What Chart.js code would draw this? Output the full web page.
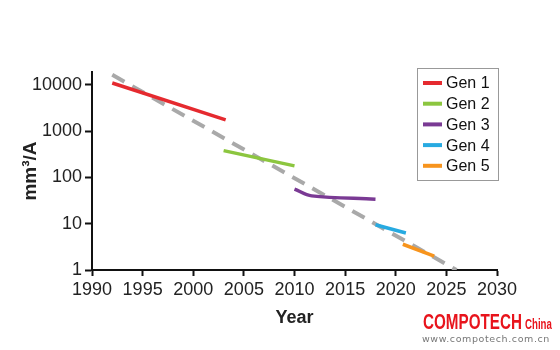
<!DOCTYPE html>
<html>
<head>
<meta charset="utf-8">
<script src="https://cdn.jsdelivr.net/npm/chart.js@4"></script>
<style>
  body { margin: 0; background: #fff; }
  #wrap { position: relative; width: 560px; height: 350px; }
  .wm { position: absolute; white-space: nowrap; line-height: 1; transform-origin: left top; }
  #big { left: 423px; top: 309px; font: bold 21px "Liberation Sans", Arial, sans-serif; color: #e8141c; transform: scaleX(0.725) scaleY(1.05); }
  #cn { left: 525px; top: 316px; font: bold 14px "Liberation Sans", Arial, sans-serif; color: #e8141c; transform: scaleX(0.69); }
  #url { left: 422px; top: 333px; font: 9.5px "DejaVu Sans", sans-serif; color: #777; letter-spacing: 0.6px; }
</style>
</head>
<body>
<div id="wrap">
  <canvas id="myChart" width="560" height="350"></canvas>
  <div class="wm" id="big">COMPOTECH</div>
  <div class="wm" id="cn">China</div>
  <div class="wm" id="url">www.compotech.com.cn</div>
</div>
<script>
// values (year, mm3/A)
var gen1 = [[1992, 11000], [2003.2, 1750]];
var gen2 = [[2003, 380], [2010, 178]];
var gen3 = [[2010, 56], [2011.7, 40], [2018, 34]];
var gen4 = [[2018, 9.5], [2021, 6.3]];
var gen5 = [[2020.7, 3.6], [2023.8, 2.0]];
var trend = [[1992, 16500], [2026, 1]];
var yTicks = [1, 10, 100, 1000, 10000];

var labels = ["Gen 1", "Gen 2", "Gen 3", "Gen 4", "Gen 5"];
var colors = ['#e52a2f', '#8cc63f', '#7a3a94', '#27aae1', '#f7941d'];

function pts(a) { return a.map(function(p) { return {x: p[0], y: p[1]}; }); }

var font = "'Liberation Sans', Arial, sans-serif";

var datasets = [gen1, gen2, gen3, gen4, gen5].map(function(s, i) {
  return {
    label: labels[i], data: pts(s), borderColor: colors[i], backgroundColor: colors[i],
    borderWidth: 3.5, pointRadius: 0, tension: i == 2 ? 0.35 : 0, borderCapStyle: 'butt'
  };
});
// trend line last so it sits under the coloured lines
datasets.push({
  label: '', data: pts(trend), borderColor: '#a9a9a9', borderWidth: 4,
  borderDash: [14, 9], pointRadius: 0
});

// boxed legend in the upper right corner
var boxLegend = {
  id: 'boxLegend',
  afterDraw: function(chart) {
    var ctx = chart.ctx;
    var x = 417, y = 68, w = 81, h = 112;
    ctx.save();
    ctx.fillStyle = '#fff';
    ctx.fillRect(x, y, w, h);
    ctx.strokeStyle = '#999';
    ctx.lineWidth = 1;
    ctx.strokeRect(x + 0.5, y + 0.5, w, h);
    ctx.font = '16px ' + font;
    ctx.textBaseline = 'middle';
    ctx.fillStyle = '#111';
    chart.data.datasets.forEach(function(ds) {
      if (!ds.label) return;
      var i = labels.indexOf(ds.label);
      var cy = y + 15 + i * 20.7;
      ctx.strokeStyle = ds.borderColor;
      ctx.lineWidth = 4;
      ctx.beginPath();
      ctx.moveTo(x + 6, cy);
      ctx.lineTo(x + 25, cy);
      ctx.stroke();
      ctx.fillText(ds.label, x + 29, cy + 1);
    });
    ctx.restore();
  }
};

var ctx = document.getElementById('myChart').getContext('2d');
var chart = new Chart(ctx, {
  type: 'line',
  data: { datasets: datasets },
  options: {
    responsive: false,
    animation: false,
    layout: { padding: { top: 72, right: 63, left: 0, bottom: 0 } },
    plugins: { legend: { display: false }, tooltip: { enabled: false } },
    scales: {
      x: {
        type: 'linear', min: 1990, max: 2030,
        afterFit: function(s) { s.height = 80; },
        border: { color: '#111', width: 2 },
        grid: { drawOnChartArea: false, tickLength: 6, color: '#111', tickWidth: 2 },
        ticks: { stepSize: 5, color: '#222', padding: 3, font: { family: font, size: 18 },
          callback: function(v) { return String(v); } },
        title: { display: true, text: 'Year', color: '#222', padding: { top: 0, bottom: 21 },
          font: { family: font, size: 18, weight: 'bold' } }
      },
      y: {
        type: 'logarithmic', min: 1, max: 19000,
        afterFit: function(s) { s.width = 92; },
        afterBuildTicks: function(s) { s.ticks = yTicks.map(function(v) { return {value: v}; }); },
        border: { color: '#111', width: 2 },
        grid: { drawOnChartArea: false, tickLength: 7, color: '#111', tickWidth: 2 },
        ticks: { color: '#222', padding: 3, font: { family: font, size: 18 },
          callback: function(v) { return String(v); } },
        title: { display: true, text: 'mm³/A', color: '#222', padding: { top: 19, bottom: 0 },
          font: { family: font, size: 19, weight: 'bold' } }
      }
    }
  },
  plugins: [boxLegend]
});
</script>
</body>
</html>
